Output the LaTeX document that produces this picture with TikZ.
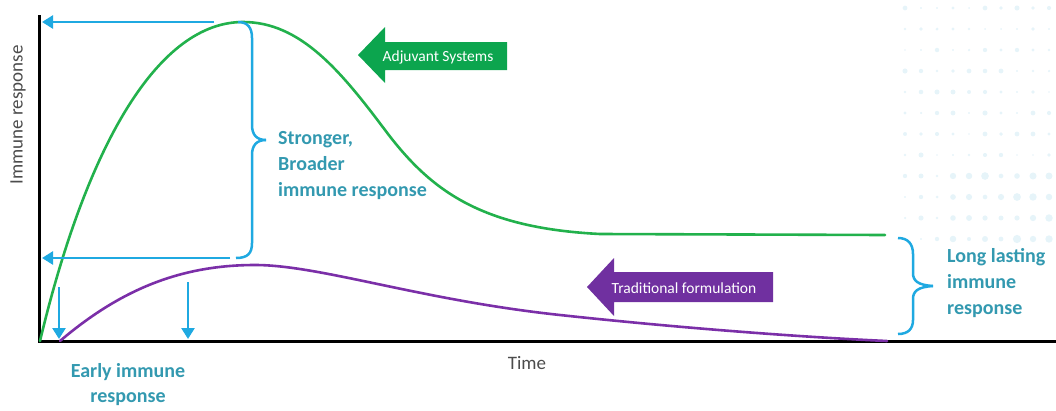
\documentclass[tikz,border=0pt]{standalone}
\usepackage{fontspec}
\setmainfont{Carlito}
\usetikzlibrary{arrows.meta}
\definecolor{cblue}{HTML}{1FA9E1}
\definecolor{cteal}{HTML}{3399B0}
\definecolor{cgreen}{HTML}{22B14C}
\definecolor{cagreen}{HTML}{0CA54E}
\definecolor{cpurple}{HTML}{7B2FA8}
\definecolor{capurple}{HTML}{7030A0}
\definecolor{cdot}{HTML}{D6ECF5}
\begin{document}
\begin{tikzpicture}[x=1pt,y=-1pt,
  axis/.style={line width=3pt,black},
  bluearrow/.style={cblue,line width=2.5pt,-{Triangle[length=11pt,width=13pt]}},
  bracestyle/.style={cblue,line width=2.5pt},
  curve/.style={line width=2.6pt,line cap=round},
  lbl/.style={font=\fontsize{20}{26}\selectfont\bfseries,text=cteal,align=left,inner sep=0pt},
  arrtext/.style={font=\fontsize{15.5}{17}\selectfont,text=white,inner sep=0pt},
  axlbl/.style={font=\fontsize{19}{21}\selectfont,text=black!70,inner sep=0pt}]
\useasboundingbox (0,0) rectangle (1056,410);
% faint dotted background
\pgfmathsetseed{7}
\foreach \r in {0,...,11}{
  \foreach \c in {0,...,9}{
    \pgfmathsetmacro{\rad}{0.8+1.8*rnd+0.25*\c*(\r>7)}
    \fill[cdot,opacity=0.6] (905+\c*16,8+\r*21) circle[radius=\rad];
  }
}
% axes
\coordinate (O) at (39,341);
\coordinate (ytop) at (39,15);
\coordinate (xend) at (1056,341);
\draw[axis] (ytop) -- (O) -- (xend);
% green curve
\draw[cgreen,curve] (40,341) .. controls (88,140) and (160,22) .. (243,22)
  .. controls (300,22) and (340,70) .. (385,130)
  .. controls (430,190) and (480,228) .. (600,234) -- (885,235);
% purple curve
\draw[cpurple,curve] (60,341) .. controls (120,290) and (180,265) .. (255,265)
  .. controls (320,265) and (420,300) .. (560,315)
  .. controls (680,328) and (800,337) .. (887,341);
% horizontal blue arrows
\coordinate (peakL) at (214,22);
\coordinate (topT) at (42,22);
\coordinate (lowL) at (230,258);
\coordinate (lowT) at (42,258);
\draw[bluearrow] (peakL) -- (topT);
\draw[bluearrow] (lowL) -- (lowT);
% down arrows
\coordinate (d1s) at (59,287);
\coordinate (d1e) at (59,339);
\coordinate (d2s) at (188,282);
\coordinate (d2e) at (188,339);
\draw[bluearrow] (d1s) -- (d1e);
\draw[bluearrow] (d2s) -- (d2e);
% left brace
\draw[bracestyle] (238,22) .. controls (248,22) and (252,28) .. (252,38)
  -- (252,125) .. controls (252,134) and (256,140) .. (266,140);
\draw[bracestyle] (266,140) .. controls (256,140) and (252,146) .. (252,155)
  -- (252,243) .. controls (252,253) and (248,258) .. (236,258);
% right brace
\draw[bracestyle] (898,238) .. controls (908,238) and (913,244) .. (913,254)
  -- (913,273) .. controls (913,281) and (918,285) .. (933,286);
\draw[bracestyle] (933,286) .. controls (918,287) and (913,291) .. (913,299)
  -- (913,320) .. controls (913,329) and (908,334) .. (898,334);
% labels
\node[lbl,anchor=west] (strong) at (278,166) {Stronger,\\Broader\\immune response};
\node[lbl,anchor=west] (long) at (947,283) {Long lasting\\immune\\response};
\node[lbl,align=center,font=\fontsize{20}{25}\selectfont\bfseries] (early) at (128,385) {Early immune\\response};
\node[axlbl] (time) at (527,363) {Time};
\node[axlbl,rotate=90] (ylab) at (18,115) {Immune response};
% green block arrow
\fill[cagreen] (358,55) -- (385,27) -- (385,42) -- (507,42) -- (507,70) -- (385,70) -- (385,83) -- cycle;
\node[arrtext] (adj) at (438,57) {Adjuvant Systems};
% purple block arrow
\fill[capurple] (587,287) -- (614,258) -- (614,272) -- (773,272) -- (773,302) -- (614,302) -- (614,316) -- cycle;
\node[arrtext] (trad) at (684,288) {Traditional formulation};
\end{tikzpicture}
\end{document}
